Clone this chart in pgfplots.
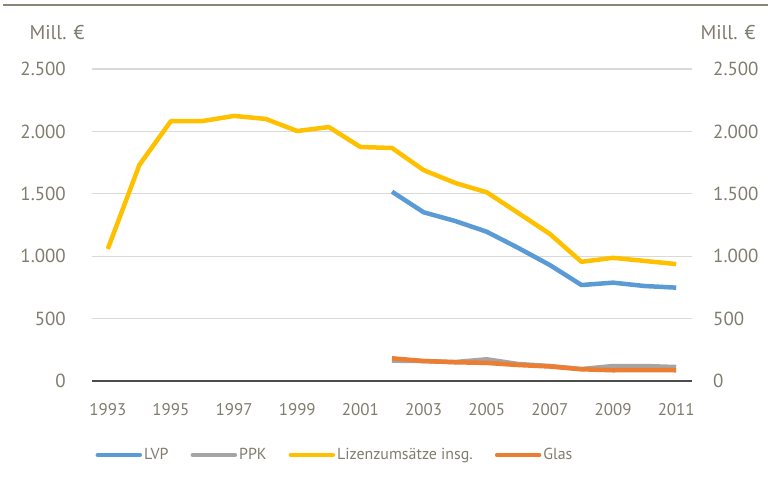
\documentclass[border=0pt]{standalone}
\usepackage{pgfplots}
\pgfplotsset{compat=1.18}
\usepackage{fontspec}
\setmainfont{PT Sans}
\definecolor{txt}{RGB}{128,124,110}
\definecolor{rulec}{RGB}{138,133,119}
\definecolor{gridc}{RGB}{217,217,217}
\definecolor{lvp}{RGB}{91,155,213}
\definecolor{ppk}{RGB}{165,165,165}
\definecolor{liz}{RGB}{255,192,0}
\definecolor{glas}{RGB}{237,125,49}
\begin{document}
\begin{tikzpicture}
\path[use as bounding box] (0,0) rectangle (768bp,480bp);
\draw[rulec, line width=2bp] (3bp,475bp) -- (768bp,475bp);
\node[anchor=center, text=txt, font=\fontsize{20}{24}\selectfont, inner sep=0] at (57bp,447bp) {Mill. €};
\node[anchor=center, text=txt, font=\fontsize{20}{24}\selectfont, inner sep=0] at (728bp,447bp) {Mill. €};
\begin{axis}[
  at={(92bp,99bp)}, anchor=south west,
  scale only axis, width=600bp, height=312bp,
  xmin=1992.5, xmax=2011.5, ymin=0, ymax=2500,
  axis x line*=bottom, axis y line*=left,
  y axis line style={draw=none},
  x axis line style={draw=black!70, line width=1.3bp, -},
  major tick length=0,
  xtick={1993,1995,...,2011},
  ytick={0,500,...,2500},
  ymajorgrids, grid style={gridc, line width=1.3bp},
  /pgf/number format/assume math mode=true,
  x tick label style={/pgf/number format/1000 sep={}, font=\fontsize{17}{20}\selectfont, text=txt, inner sep=0, yshift=-22bp},
  y tick label style={/pgf/number format/1000 sep={.}, font=\fontsize{19}{22}\selectfont, text=txt, inner sep=0, xshift=-26bp},
  legend columns=4,
  legend style={at={(0.405,-0.237)}, anchor=center, draw=none, fill=none,
    font=\fontsize{16}{19}\selectfont, text=txt,
    /tikz/every even column/.append style={column sep=20bp}},
  legend image code/.code={\draw[#1, line width=4.5bp, line cap=round] (0bp,0bp) -- (42bp,0bp);},
  every axis plot/.append style={line width=4.5bp, line join=round},
]
\addplot[lvp] coordinates {(2002,1517)(2003,1352)(2004,1282)(2005,1196)(2006,1066)(2007,929)(2008,769)(2009,788)(2010,761)(2011,748)};
\addlegendentry{LVP}
\addplot[ppk] coordinates {(2002,163)(2003,160)(2004,152)(2005,174)(2006,136)(2007,120)(2008,96)(2009,120)(2010,120)(2011,112)};
\addlegendentry{PPK}
\addplot[liz] coordinates {(1993,1058)(1994,1731)(1995,2083)(1996,2083)(1997,2124)(1998,2100)(1999,2003)(2000,2035)(2001,1875)(2002,1867)(2003,1690)(2004,1587)(2005,1512)(2006,1346)(2007,1178)(2008,955)(2009,987)(2010,962)(2011,937)};
\addlegendentry{Lizenzumsätze insg.}
\addplot[glas] coordinates {(2002,182)(2003,160)(2004,150)(2005,145)(2006,128)(2007,116)(2008,94)(2009,86)(2010,88)(2011,86)};
\addlegendentry{Glas}
\end{axis}
\begin{axis}[
  at={(92bp,99bp)}, anchor=south west,
  scale only axis, width=600bp, height=312bp,
  xmin=1992.5, xmax=2011.5, ymin=0, ymax=2500,
  hide x axis, axis y line*=right,
  y axis line style={draw=none},
  major tick length=0,
  ytick={0,500,...,2500},
  /pgf/number format/assume math mode=true,
  y tick label style={/pgf/number format/1000 sep={.}, font=\fontsize{19}{22}\selectfont, text=txt, inner sep=0, xshift=21bp},
]
\end{axis}
\end{tikzpicture}
\end{document}
